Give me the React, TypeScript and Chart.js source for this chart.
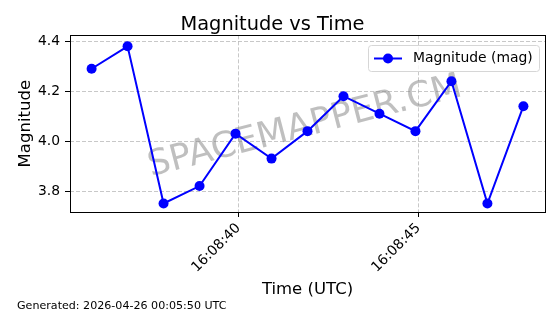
import React, { useEffect, useRef } from "react";
import { Chart, registerables } from "chart.js";

Chart.register(...registerables);

// seconds past 16:08:00 (UTC)
const timeSeconds = [35.92, 36.92, 37.92, 38.92, 39.92, 40.92, 41.92, 42.92, 43.92, 44.92, 45.92, 46.92, 47.92];
const magnitudes = [4.29, 4.38, 3.75, 3.82, 4.03, 3.93, 4.04, 4.18, 4.11, 4.04, 4.24, 3.75, 4.14];
const xTickValues = [40, 45];
const yTickValues = [3.8, 4.0, 4.2, 4.4];
const xMin = 35.32;
const xMax = 48.52;
const yMin = 3.716;
const yMax = 4.424;

const titleText = "Magnitude vs Time";
const xTitle = "Time (UTC)";
const yTitle = "Magnitude";
const seriesLabel = "Magnitude (mag)";
const footerText = "Generated: 2026-04-26 00:05:50 UTC";
const watermarkText = "SPACEMAPPER.CM";

const FONT = "'DejaVu Sans', sans-serif";

const fmtTime = (v: number) => {
  const s = Math.round(v);
  return "16:08:" + String(s).padStart(2, "0");
};

const decorPlugin = {
  id: "decor",
  beforeDatasetsDraw(chart: any) {
    const { ctx, chartArea } = chart;
    ctx.save();
    ctx.beginPath();
    ctx.rect(chartArea.left, chartArea.top, chartArea.right - chartArea.left, chartArea.bottom - chartArea.top);
    ctx.clip();
    ctx.translate(305, 127);
    ctx.rotate((-14.5 * Math.PI) / 180);
    ctx.font = `35.5px ${FONT}`;
    ctx.fillStyle = "rgba(128,128,128,0.5)";
    ctx.textAlign = "center";
    ctx.textBaseline = "middle";
    ctx.fillText(watermarkText, 0, 0);
    ctx.restore();
  },
  afterDraw(chart: any) {
    const { ctx, chartArea } = chart;
    ctx.save();
    ctx.strokeStyle = "#000";
    ctx.lineWidth = 1;
    ctx.strokeRect(
      Math.round(chartArea.left) + 0.5,
      Math.round(chartArea.top) + 0.5,
      Math.round(chartArea.right - chartArea.left),
      Math.round(chartArea.bottom - chartArea.top)
    );
    const bx = 368, by = 45, bw = 171, bh = 26;
    ctx.fillStyle = "rgba(255,255,255,0.8)";
    ctx.strokeStyle = "#d6d6d6";
    ctx.lineWidth = 1;
    ctx.beginPath();
    (ctx as any).roundRect(bx + 0.5, by + 0.5, bw, bh, 3);
    ctx.fill();
    ctx.stroke();
    const ly = by + bh / 2 + 0.5;
    ctx.strokeStyle = "#0000ff";
    ctx.lineWidth = 2;
    ctx.beginPath();
    ctx.moveTo(374, ly);
    ctx.lineTo(402, ly);
    ctx.stroke();
    ctx.fillStyle = "#0000ff";
    ctx.beginPath();
    ctx.arc(388, ly, 5, 0, Math.PI * 2);
    ctx.fill();
    ctx.fillStyle = "#000";
    ctx.font = `13.9px ${FONT}`;
    ctx.textAlign = "left";
    ctx.textBaseline = "middle";
    ctx.fillText(seriesLabel, 413, ly);
    ctx.font = `11.1px ${FONT}`;
    ctx.textBaseline = "alphabetic";
    ctx.fillText(footerText, 17, 309);
    ctx.restore();
  },
};

export default function App() {
  const ref = useRef<HTMLCanvasElement | null>(null);
  useEffect(() => {
    document.body.style.margin = "0";
    const canvas = ref.current!;
    const gridOpts = {
      color: "rgba(176,176,176,0.7)",
      tickBorderDash: [],
      tickColor: "#000",
      tickLength: 5,
      lineWidth: 1,
    };
    const chart = new Chart(canvas, {
      type: "line",
      data: {
        datasets: [
          {
            label: seriesLabel,
            data: timeSeconds.map((t, i) => ({ x: t, y: magnitudes[i] })),
            borderColor: "#0000ff",
            backgroundColor: "#0000ff",
            borderWidth: 2,
            pointRadius: 5,
            pointHoverRadius: 5,
            pointBorderWidth: 0,
            tension: 0,
            fill: false,
          },
        ],
      },
      options: {
        animation: false,
        responsive: false,
        devicePixelRatio: 1,
        layout: { padding: { left: 0, right: 15, top: 0, bottom: 12 } },
        plugins: {
          legend: { display: false },
          tooltip: { enabled: false },
          title: {
            display: true,
            text: titleText,
            color: "#000",
            font: { family: FONT, size: 19.4, weight: "normal", lineHeight: 1.1 },
            padding: { top: 14, bottom: 0 },
          },
        },
        scales: {
          x: {
            type: "linear",
            min: xMin,
            max: xMax,
            afterBuildTicks: (scale: any) => {
              scale.ticks = xTickValues.map((v) => ({ value: v }));
            },
            afterFit: (scale: any) => {
              scale.height = 90;
              scale.paddingLeft = 0;
              scale.paddingRight = 0;
            },
            ticks: {
              callback: (v: any) => fmtTime(Number(v)),
              minRotation: 45,
              maxRotation: 45,
              autoSkip: false,
              color: "#000",
              padding: 3,
              font: { family: FONT, size: 13.9 },
            },
            grid: gridOpts,
            border: { display: false, dash: [4, 2] },
            title: {
              display: true,
              text: xTitle,
              color: "#000",
              font: { family: FONT, size: 16.5, lineHeight: 1.2 },
              padding: { top: 0, bottom: 2 },
            },
          },
          y: {
            type: "linear",
            min: yMin,
            max: yMax,
            afterBuildTicks: (scale: any) => {
              scale.ticks = yTickValues.map((v) => ({ value: v }));
            },
            afterFit: (scale: any) => {
              scale.width = 70;
            },
            ticks: {
              callback: (v: any) => Number(v).toFixed(1),
              color: "#000",
              padding: 5,
              font: { family: FONT, size: 13.9 },
            },
            grid: gridOpts,
            border: { display: false, dash: [4, 2] },
            title: {
              display: true,
              text: yTitle,
              color: "#000",
              font: { family: FONT, size: 16.5, lineHeight: 1.2 },
              padding: { top: 16, bottom: 0 },
            },
          },
        },
      },
      plugins: [decorPlugin],
    } as any);
    return () => chart.destroy();
  }, []);
  return (
    <div style={{ width: 560, height: 314, background: "#fff" }}>
      <canvas ref={ref} width={560} height={314} style={{ display: "block" }} />
    </div>
  );
}
